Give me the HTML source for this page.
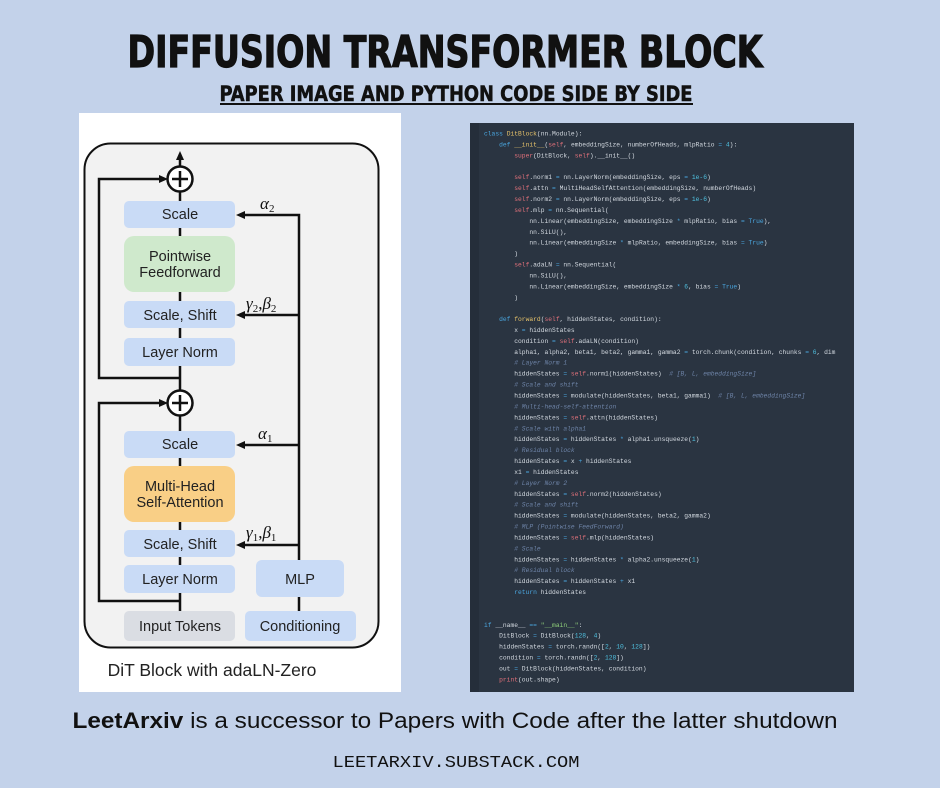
<!DOCTYPE html>
<html><head><meta charset="utf-8"><style>
html,body{margin:0;padding:0;background:#c3d2ea;}
svg{display:block}
.c{font-family:"Liberation Mono",monospace;font-size:6.3px;fill:#d3d9e0;white-space:pre}
.k{fill:#4aa6df}.s{fill:#e0707a}.n{fill:#4fc1e0}.m{fill:#6e84a8;font-style:italic}.f{fill:#e6c26a}.g{fill:#8fcf7a}
.b{font-family:"Liberation Sans",sans-serif;font-size:14.5px;fill:#222}
</style></head><body>
<svg width="940" height="788" viewBox="0 0 940 788" xmlns="http://www.w3.org/2000/svg">
<rect width="940" height="788" fill="#c3d2ea"/>
<text x="445" y="67" text-anchor="middle" font-family="DejaVu Sans Condensed, DejaVu Sans, sans-serif" font-weight="bold" font-size="44" textLength="635" lengthAdjust="spacingAndGlyphs" fill="#111" stroke="#111" stroke-width="1.2">DIFFUSION TRANSFORMER BLOCK</text>
<text x="456" y="101" text-anchor="middle" font-family="DejaVu Sans Condensed, DejaVu Sans, sans-serif" font-weight="bold" font-size="21" textLength="473" lengthAdjust="spacingAndGlyphs" fill="#111" stroke="#111" stroke-width="0.5">PAPER IMAGE AND PYTHON CODE SIDE BY SIDE</text>
<rect x="220" y="103" width="473" height="2" fill="#111"/>

<rect x="79" y="113" width="322" height="579" fill="#fff"/>
<rect x="84.5" y="143.5" width="294" height="504" rx="26" fill="#f2f2f2" stroke="#111" stroke-width="2"/>
<g fill="#c9dbf6">
<rect x="124" y="201" width="111" height="27" rx="5"/>
<rect x="124" y="301" width="111" height="27" rx="5"/>
<rect x="124" y="338" width="111" height="28" rx="5"/>
<rect x="124" y="431" width="111" height="27" rx="5"/>
<rect x="124" y="530" width="111" height="27" rx="5"/>
<rect x="124" y="565" width="111" height="28" rx="5"/>
<rect x="256" y="560" width="88" height="37" rx="6"/>
<rect x="245" y="611" width="111" height="30" rx="5"/>
</g>
<rect x="124" y="236" width="111" height="56" rx="10" fill="#cfe9cc"/>
<rect x="124" y="466" width="111" height="56" rx="10" fill="#f9cf86"/>
<rect x="124" y="611" width="111" height="30" rx="5" fill="#dadde3"/>
<g stroke="#111" stroke-width="2.5" fill="none">
<line x1="180" y1="167" x2="180" y2="158"/>
<line x1="180" y1="192" x2="180" y2="201"/><line x1="180" y1="228" x2="180" y2="236"/>
<line x1="180" y1="292" x2="180" y2="301"/><line x1="180" y1="328" x2="180" y2="338"/>
<line x1="180" y1="366" x2="180" y2="391"/>
<polyline points="180,378 99,378 99,179 160,179"/>
<line x1="180" y1="416" x2="180" y2="431"/><line x1="180" y1="458" x2="180" y2="466"/>
<line x1="180" y1="522" x2="180" y2="530"/><line x1="180" y1="557" x2="180" y2="565"/>
<line x1="180" y1="593" x2="180" y2="611"/>
<polyline points="180,601 99,601 99,403 160,403"/>
<line x1="299" y1="611" x2="299" y2="597"/>
<polyline points="299,560 299,215 243,215"/>
<line x1="299" y1="315" x2="243" y2="315"/>
<line x1="299" y1="445" x2="243" y2="445"/>
<line x1="299" y1="545" x2="243" y2="545"/>
<circle cx="180" cy="179" r="12.5" fill="#fff"/>
<circle cx="180" cy="403" r="12.5" fill="#fff"/>
<path d="M172 179h16M180 171v16M172 403h16M180 395v16"/>
</g>
<g fill="#111">
<path d="M180 151l-4 9h8z"/>
<path d="M168 179l-9-4v8zM168 403l-9-4v8z"/>
<path d="M236 215l9-4v8zM236 315l9-4v8zM236 445l9-4v8zM236 545l9-4v8z"/>
</g>
<g text-anchor="middle">
<text class="b" x="180" y="219">Scale</text>
<text class="b" x="180" y="261">Pointwise</text>
<text class="b" x="180" y="277">Feedforward</text>
<text class="b" x="180" y="320">Scale, Shift</text>
<text class="b" x="180" y="357">Layer Norm</text>
<text class="b" x="180" y="449">Scale</text>
<text class="b" x="180" y="491">Multi-Head</text>
<text class="b" x="180" y="507">Self-Attention</text>
<text class="b" x="180" y="549">Scale, Shift</text>
<text class="b" x="180" y="584">Layer Norm</text>
<text class="b" x="300" y="584">MLP</text>
<text class="b" x="180" y="631">Input Tokens</text>
<text class="b" x="300" y="631">Conditioning</text>
<text x="212" y="676" font-family="Liberation Sans,sans-serif" font-size="17.5" fill="#222">DiT Block with adaLN-Zero</text>
</g>
<g font-family="Liberation Serif,serif" font-style="italic" font-size="17" fill="#111">
<text x="260" y="209">α<tspan font-size="11" font-style="normal" dy="3">2</tspan></text>
<text x="246" y="309">γ<tspan font-size="11" font-style="normal" dy="3">2</tspan><tspan dy="-3" font-style="normal">,</tspan>β<tspan font-size="11" font-style="normal" dy="3">2</tspan></text>
<text x="258" y="439">α<tspan font-size="11" font-style="normal" dy="3">1</tspan></text>
<text x="246" y="538">γ<tspan font-size="11" font-style="normal" dy="3">1</tspan><tspan dy="-3" font-style="normal">,</tspan>β<tspan font-size="11" font-style="normal" dy="3">1</tspan></text>
</g>

<rect x="470" y="123" width="384" height="569" fill="#2a3441"/>
<rect x="470" y="123" width="9" height="569" fill="#252e3a"/>
<g>
<text class="c" x="484" y="135.5"><tspan class="k">class</tspan> <tspan class="f">DitBlock</tspan>(nn.Module):</text>
<text class="c" x="484" y="146.4">    <tspan class="k">def</tspan> <tspan class="f">__init__</tspan>(<tspan class="s">self</tspan>, embeddingSize, numberOfHeads, mlpRatio <tspan class="k">=</tspan> <tspan class="n">4</tspan>):</text>
<text class="c" x="484" y="157.3">        <tspan class="s">super</tspan>(DitBlock, <tspan class="s">self</tspan>).__init__()</text>
<text class="c" x="484" y="179.2">        <tspan class="s">self</tspan>.norm1 <tspan class="k">=</tspan> nn.LayerNorm(embeddingSize, eps <tspan class="k">=</tspan> <tspan class="n">1e-6</tspan>)</text>
<text class="c" x="484" y="190.1">        <tspan class="s">self</tspan>.attn <tspan class="k">=</tspan> MultiHeadSelfAttention(embeddingSize, numberOfHeads)</text>
<text class="c" x="484" y="201.0">        <tspan class="s">self</tspan>.norm2 <tspan class="k">=</tspan> nn.LayerNorm(embeddingSize, eps <tspan class="k">=</tspan> <tspan class="n">1e-6</tspan>)</text>
<text class="c" x="484" y="211.9">        <tspan class="s">self</tspan>.mlp <tspan class="k">=</tspan> nn.Sequential(</text>
<text class="c" x="484" y="222.8">            nn.Linear(embeddingSize, embeddingSize <tspan class="k">*</tspan> mlpRatio, bias <tspan class="k">=</tspan> <tspan class="k">True</tspan>),</text>
<text class="c" x="484" y="233.8">            nn.SiLU(),</text>
<text class="c" x="484" y="244.7">            nn.Linear(embeddingSize <tspan class="k">*</tspan> mlpRatio, embeddingSize, bias <tspan class="k">=</tspan> <tspan class="k">True</tspan>)</text>
<text class="c" x="484" y="255.6">        )</text>
<text class="c" x="484" y="266.5">        <tspan class="s">self</tspan>.adaLN <tspan class="k">=</tspan> nn.Sequential(</text>
<text class="c" x="484" y="277.4">            nn.SiLU(),</text>
<text class="c" x="484" y="288.4">            nn.Linear(embeddingSize, embeddingSize <tspan class="k">*</tspan> <tspan class="n">6</tspan>, bias <tspan class="k">=</tspan> <tspan class="k">True</tspan>)</text>
<text class="c" x="484" y="299.3">        )</text>
<text class="c" x="484" y="321.1">    <tspan class="k">def</tspan> <tspan class="f">forward</tspan>(<tspan class="s">self</tspan>, hiddenStates, condition):</text>
<text class="c" x="484" y="332.0">        x <tspan class="k">=</tspan> hiddenStates</text>
<text class="c" x="484" y="342.9">        condition <tspan class="k">=</tspan> <tspan class="s">self</tspan>.adaLN(condition)</text>
<text class="c" x="484" y="353.8">        alpha1, alpha2, beta1, beta2, gamma1, gamma2 <tspan class="k">=</tspan> torch.chunk(condition, chunks <tspan class="k">=</tspan> <tspan class="n">6</tspan>, dim</text>
<text class="c m" x="484" y="364.7">        # Layer Norm 1</text>
<text class="c" x="484" y="375.7">        hiddenStates <tspan class="k">=</tspan> <tspan class="s">self</tspan>.norm1(hiddenStates)  <tspan class="m"># [B, L, embeddingSize]</tspan></text>
<text class="c m" x="484" y="386.6">        # Scale and shift</text>
<text class="c" x="484" y="397.5">        hiddenStates <tspan class="k">=</tspan> modulate(hiddenStates, beta1, gamma1)  <tspan class="m"># [B, L, embeddingSize]</tspan></text>
<text class="c m" x="484" y="408.4">        # Multi-head-self-attention</text>
<text class="c" x="484" y="419.3">        hiddenStates <tspan class="k">=</tspan> <tspan class="s">self</tspan>.attn(hiddenStates)</text>
<text class="c m" x="484" y="430.3">        # Scale with alpha1</text>
<text class="c" x="484" y="441.2">        hiddenStates <tspan class="k">=</tspan> hiddenStates <tspan class="k">*</tspan> alpha1.unsqueeze(<tspan class="n">1</tspan>)</text>
<text class="c m" x="484" y="452.1">        # Residual block</text>
<text class="c" x="484" y="463.0">        hiddenStates <tspan class="k">=</tspan> x <tspan class="k">+</tspan> hiddenStates</text>
<text class="c" x="484" y="473.9">        x1 <tspan class="k">=</tspan> hiddenStates</text>
<text class="c m" x="484" y="484.8">        # Layer Norm 2</text>
<text class="c" x="484" y="495.8">        hiddenStates <tspan class="k">=</tspan> <tspan class="s">self</tspan>.norm2(hiddenStates)</text>
<text class="c m" x="484" y="506.7">        # Scale and shift</text>
<text class="c" x="484" y="517.6">        hiddenStates <tspan class="k">=</tspan> modulate(hiddenStates, beta2, gamma2)</text>
<text class="c m" x="484" y="528.5">        # MLP (Pointwise FeedForward)</text>
<text class="c" x="484" y="539.4">        hiddenStates <tspan class="k">=</tspan> <tspan class="s">self</tspan>.mlp(hiddenStates)</text>
<text class="c m" x="484" y="550.4">        # Scale</text>
<text class="c" x="484" y="561.3">        hiddenStates <tspan class="k">=</tspan> hiddenStates <tspan class="k">*</tspan> alpha2.unsqueeze(<tspan class="n">1</tspan>)</text>
<text class="c m" x="484" y="572.2">        # Residual block</text>
<text class="c" x="484" y="583.1">        hiddenStates <tspan class="k">=</tspan> hiddenStates <tspan class="k">+</tspan> x1</text>
<text class="c" x="484" y="594.0">        <tspan class="k">return</tspan> hiddenStates</text>
<text class="c" x="484" y="626.8"><tspan class="k">if</tspan> __name__ <tspan class="k">==</tspan> <tspan class="g">"__main__"</tspan>:</text>
<text class="c" x="484" y="637.7">    DitBlock <tspan class="k">=</tspan> DitBlock(<tspan class="n">128</tspan>, <tspan class="n">4</tspan>)</text>
<text class="c" x="484" y="648.6">    hiddenStates <tspan class="k">=</tspan> torch.randn([<tspan class="n">2</tspan>, <tspan class="n">10</tspan>, <tspan class="n">128</tspan>])</text>
<text class="c" x="484" y="659.5">    condition <tspan class="k">=</tspan> torch.randn([<tspan class="n">2</tspan>, <tspan class="n">128</tspan>])</text>
<text class="c" x="484" y="670.4">    out <tspan class="k">=</tspan> DitBlock(hiddenStates, condition)</text>
<text class="c" x="484" y="681.4">    <tspan class="s">print</tspan>(out.shape)</text>
</g>

<text x="455" y="728" text-anchor="middle" font-family="Liberation Sans Narrow,Liberation Sans,sans-serif" font-size="22" textLength="765" lengthAdjust="spacingAndGlyphs" fill="#111"><tspan font-weight="bold">LeetArxiv</tspan> is a successor to Papers with Code after the latter shutdown</text>
<text x="456" y="767" text-anchor="middle" font-family="Liberation Mono,monospace" font-size="17" textLength="247" lengthAdjust="spacingAndGlyphs" fill="#111">LEETARXIV.SUBSTACK.COM</text>
</svg>
</body></html>
